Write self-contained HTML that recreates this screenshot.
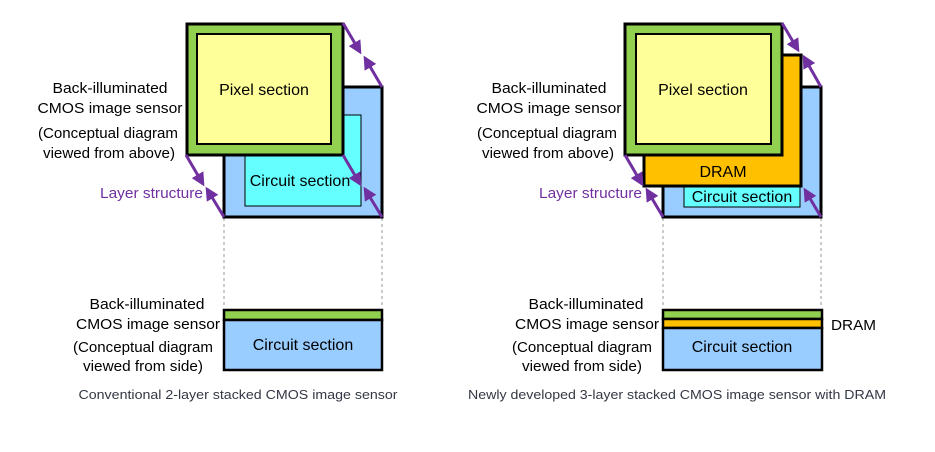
<!DOCTYPE html>
<html><head><meta charset="utf-8"><style>body{margin:0;background:#fff}svg{display:block}text{font-family:"Liberation Sans",Arial,sans-serif}</style></head><body>
<svg width="935" height="452" viewBox="0 0 935 452" xmlns="http://www.w3.org/2000/svg">
<defs><marker id="a" viewBox="0 0 10 10" refX="8" refY="5" markerWidth="4.5" markerHeight="4.5" orient="auto"><path d="M0,0L10,5L0,10z" fill="#7030a0"/></marker></defs>
<g stroke="#999" stroke-dasharray="3,3" stroke-width="1"><line x1="224" y1="218" x2="224" y2="308"/><line x1="382" y1="218" x2="382" y2="308"/><line x1="663" y1="218" x2="663" y2="308"/><line x1="821" y1="218" x2="821" y2="308"/></g>
<rect x="224" y="87" width="158" height="130" fill="#99ccff" stroke="#000" stroke-width="3"/>
<rect x="245" y="115" width="116" height="91" fill="#66ffff" stroke="#000" stroke-width="1"/>
<text x="300" y="186" font-size="16" text-anchor="middle">Circuit section</text>
<rect x="187" y="24" width="156" height="131" fill="#92d050" stroke="#000" stroke-width="3"/>
<rect x="197" y="34" width="134" height="110" fill="#ffff99" stroke="#000" stroke-width="2"/>
<text x="264" y="95" font-size="16" text-anchor="middle">Pixel section</text>
<rect x="663" y="87" width="158" height="130" fill="#99ccff" stroke="#000" stroke-width="3"/>
<rect x="684" y="186" width="116" height="21" fill="#66ffff" stroke="#000" stroke-width="1"/>
<text x="742" y="202" font-size="16" text-anchor="middle">Circuit section</text>
<rect x="644" y="55" width="157" height="131" fill="#ffc000" stroke="#000" stroke-width="3"/>
<text x="723" y="177" font-size="16" text-anchor="middle">DRAM</text>
<rect x="625" y="24" width="157" height="131" fill="#92d050" stroke="#000" stroke-width="3"/>
<rect x="636" y="34" width="135" height="110" fill="#ffff99" stroke="#000" stroke-width="2"/>
<text x="703" y="95" font-size="16" text-anchor="middle">Pixel section</text>
<g stroke="#7030a0" stroke-width="3" marker-end="url(#a)">
<line x1="343" y1="23" x2="360" y2="52"/><line x1="382" y1="87" x2="365" y2="58"/>
<line x1="186" y1="155" x2="203" y2="184"/><line x1="224" y1="217" x2="207" y2="189"/>
<line x1="343" y1="155" x2="360" y2="184"/><line x1="382" y1="217" x2="365" y2="189"/>
<line x1="782" y1="23" x2="798" y2="50"/><line x1="821" y1="87" x2="804" y2="57"/>
<line x1="625" y1="155" x2="642" y2="184"/><line x1="663" y1="217" x2="647" y2="190"/>
<line x1="821" y1="217" x2="805" y2="190"/>
</g>
<g font-size="15" text-anchor="middle">
<text x="110" y="93" textLength="115" lengthAdjust="spacingAndGlyphs">Back-illuminated</text>
<text x="110" y="113" textLength="145" lengthAdjust="spacingAndGlyphs">CMOS image sensor</text>
<text x="108" y="138" textLength="140" lengthAdjust="spacingAndGlyphs">(Conceptual diagram</text>
<text x="109" y="158" textLength="132" lengthAdjust="spacingAndGlyphs">viewed from above)</text>
<text x="549" y="93" textLength="115" lengthAdjust="spacingAndGlyphs">Back-illuminated</text>
<text x="549" y="113" textLength="145" lengthAdjust="spacingAndGlyphs">CMOS image sensor</text>
<text x="547" y="138" textLength="140" lengthAdjust="spacingAndGlyphs">(Conceptual diagram</text>
<text x="548" y="158" textLength="132" lengthAdjust="spacingAndGlyphs">viewed from above)</text>
</g>
<text x="100" y="198" font-size="15" fill="#7030a0" textLength="103" lengthAdjust="spacingAndGlyphs">Layer structure</text>
<text x="539" y="198" font-size="15" fill="#7030a0" textLength="103" lengthAdjust="spacingAndGlyphs">Layer structure</text>
<rect x="224" y="310" width="158" height="10" fill="#92d050" stroke="#000" stroke-width="2.5"/>
<rect x="224" y="320" width="158" height="50" fill="#99ccff" stroke="#000" stroke-width="2.5"/>
<text x="303" y="350" font-size="16" text-anchor="middle">Circuit section</text>
<rect x="663" y="310" width="159" height="9" fill="#92d050" stroke="#000" stroke-width="2.5"/>
<rect x="663" y="319" width="159" height="9" fill="#ffc000" stroke="#000" stroke-width="2.5"/>
<rect x="663" y="328" width="159" height="42" fill="#99ccff" stroke="#000" stroke-width="2.5"/>
<text x="742" y="352" font-size="16" text-anchor="middle">Circuit section</text>
<text x="831" y="330" font-size="15" textLength="45" lengthAdjust="spacingAndGlyphs">DRAM</text>
<g font-size="15" text-anchor="middle">
<text x="147" y="309" textLength="115" lengthAdjust="spacingAndGlyphs">Back-illuminated</text>
<text x="148" y="329" textLength="144" lengthAdjust="spacingAndGlyphs">CMOS image sensor</text>
<text x="143" y="352" textLength="140" lengthAdjust="spacingAndGlyphs">(Conceptual diagram</text>
<text x="143" y="371" textLength="120" lengthAdjust="spacingAndGlyphs">viewed from side)</text>
<text x="586" y="309" textLength="115" lengthAdjust="spacingAndGlyphs">Back-illuminated</text>
<text x="587" y="329" textLength="144" lengthAdjust="spacingAndGlyphs">CMOS image sensor</text>
<text x="582" y="352" textLength="140" lengthAdjust="spacingAndGlyphs">(Conceptual diagram</text>
<text x="582" y="371" textLength="120" lengthAdjust="spacingAndGlyphs">viewed from side)</text>
</g>
<g font-size="13" fill="#333844" text-anchor="middle">
<text x="238" y="399" textLength="319" lengthAdjust="spacingAndGlyphs">Conventional 2-layer stacked CMOS image sensor</text>
<text x="677" y="399" textLength="418" lengthAdjust="spacingAndGlyphs">Newly developed 3-layer stacked CMOS image sensor with DRAM</text>
</g>
</svg>
</body></html>
